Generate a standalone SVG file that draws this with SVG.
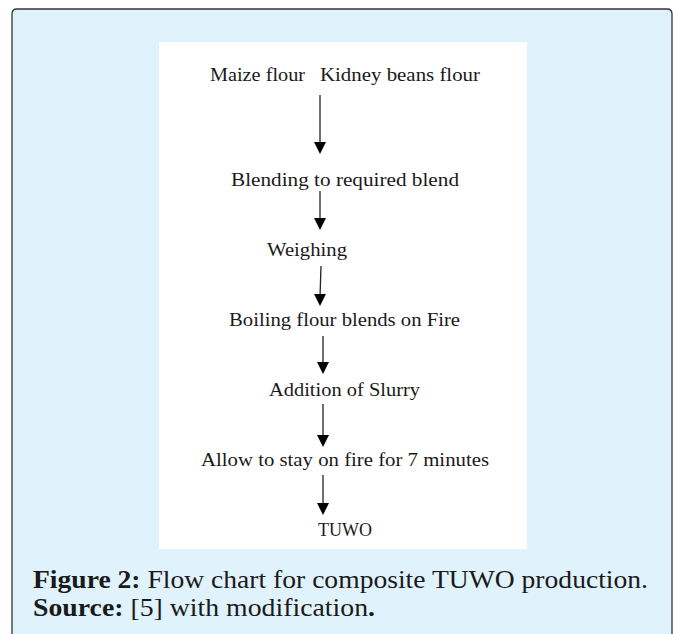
<svg xmlns="http://www.w3.org/2000/svg" width="674" height="634" viewBox="0 0 674 634">
<defs>
<style>
.t{font-family:"Liberation Serif","DejaVu Serif",serif;font-size:19px;fill:#1a1a1a;text-anchor:start}
.c{font-family:"Liberation Serif","DejaVu Serif",serif;font-size:25px;fill:#1a1a1a}
.b{font-weight:bold}
.ln{stroke:#222;stroke-width:1.3;fill:none}
.ah{fill:#000}
</style>
</defs>
<rect x="0" y="0" width="674" height="634" fill="#ffffff"/>
<path d="M12 640 V14 Q12 9 17 9 H667 Q672 9 672 14 V640" fill="#e0f2fc" stroke="#333" stroke-width="1.3"/>
<rect x="159" y="42" width="368" height="507" fill="#ffffff"/>
<g id="connectors">
<line class="ln" x1="320" y1="95" x2="320" y2="145"/><polygon class="ah" points="314,142 326,142 320,154"/>
<line class="ln" x1="320" y1="191" x2="320" y2="221"/><polygon class="ah" points="314,218 326,218 320,230"/>
<line class="ln" x1="321" y1="266" x2="320" y2="297"/><polygon class="ah" points="314,294 326,294 320,306"/>
<line class="ln" x1="323" y1="336" x2="323" y2="365"/><polygon class="ah" points="317,362 329,362 323,374"/>
<line class="ln" x1="323" y1="404" x2="323" y2="438"/><polygon class="ah" points="317,435 329,435 323,447"/>
<line class="ln" x1="323" y1="475" x2="323" y2="506"/><polygon class="ah" points="317,503 329,503 323,515"/>
</g>
<g id="n1"><text class="t" x="210" y="81" textLength="95" lengthAdjust="spacingAndGlyphs">Maize flour</text><text class="t" x="320" y="81" textLength="160" lengthAdjust="spacingAndGlyphs">Kidney beans flour</text></g>
<g id="n2"><text class="t" x="231" y="186" textLength="228" lengthAdjust="spacingAndGlyphs">Blending to required blend</text></g>
<g id="n3"><text class="t" x="267" y="256" textLength="80" lengthAdjust="spacingAndGlyphs">Weighing</text></g>
<g id="n4"><text class="t" x="229" y="326" textLength="231" lengthAdjust="spacingAndGlyphs">Boiling flour blends on Fire</text></g>
<g id="n5"><text class="t" x="269" y="396" textLength="151" lengthAdjust="spacingAndGlyphs">Addition of Slurry</text></g>
<g id="n6"><text class="t" x="201" y="466" textLength="288" lengthAdjust="spacingAndGlyphs">Allow to stay on fire for 7 minutes</text></g>
<g id="n7"><text class="t" x="318" y="536" textLength="54" lengthAdjust="spacingAndGlyphs">TUWO</text></g>
<g id="caption">
<text class="c" x="33" y="588" textLength="615" lengthAdjust="spacingAndGlyphs"><tspan class="b">Figure 2:</tspan> Flow chart for composite TUWO production.</text>
<text class="c" x="33" y="616" textLength="342" lengthAdjust="spacingAndGlyphs"><tspan class="b">Source:</tspan> [5] with modification<tspan class="b">.</tspan></text>
</g>
</svg>
